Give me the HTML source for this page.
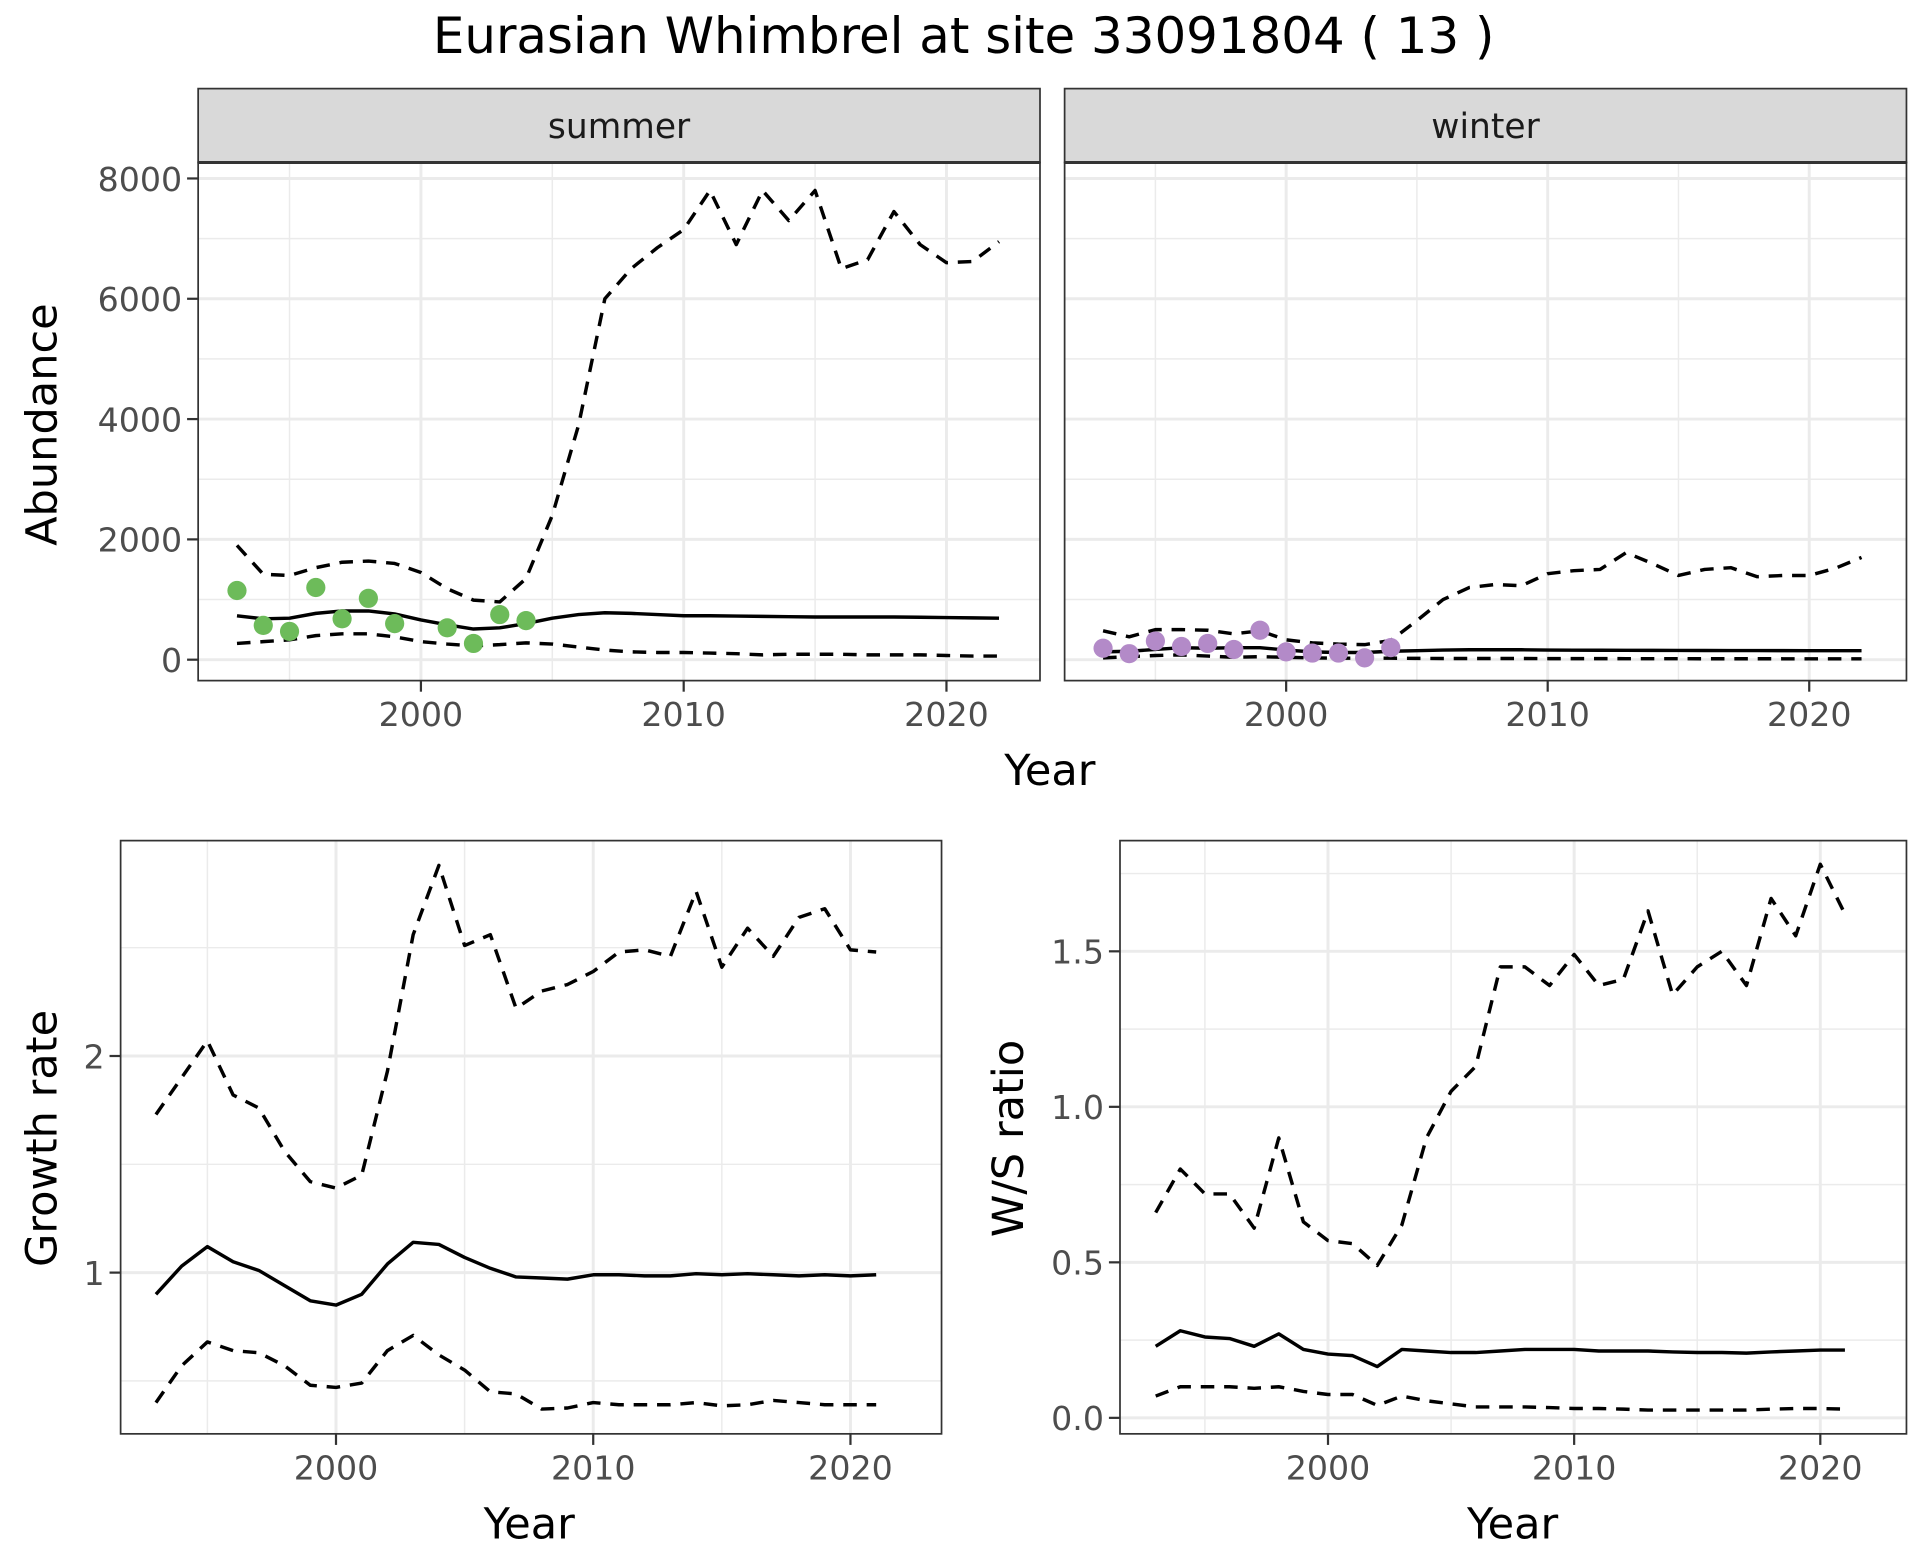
<!DOCTYPE html>
<html><head><meta charset="utf-8"><style>
html,body{margin:0;padding:0;background:#fff}
svg{display:block;font-family:"DejaVu Sans","Liberation Sans",sans-serif}
</style></head><body>
<svg id="chart" width="1920" height="1560" viewBox="0 0 1560 1267.5" xmlns="http://www.w3.org/2000/svg">
<rect width="1560" height="1267.5" fill="#fff"/>
<text x="783" y="43" font-size="40.5" text-anchor="middle" fill="#000">Eurasian Whimbrel at site 33091804 ( 13 )</text>
</svg>
<script>
const yearsAll = [1993,1994,1995,1996,1997,1998,1999,2000,2001,2002,2003,2004,2005,2006,2007,2008,2009,2010,2011,2012,2013,2014,2015,2016,2017,2018,2019,2020,2021,2022];
const yearsGR = [1993,1994,1995,1996,1997,1998,1999,2000,2001,2002,2003,2004,2005,2006,2007,2008,2009,2010,2011,2012,2013,2014,2015,2016,2017,2018,2019,2020,2021];
const summerObsYears = [1993,1994,1995,1996,1997,1998,1999,2001,2002,2003,2004];
const summerObs = [1150,570,470,1200,680,1020,600,530,270,750,650];
const summerMid = [730,680,690,770,810,810,760,660,580,510,530,600,690,750,780,770,750,730,730,725,720,715,710,710,710,710,705,700,695,690];
const summerUp = [1900,1420,1400,1530,1620,1640,1600,1450,1180,990,960,1350,2400,3900,6000,6500,6850,7150,7800,6900,7800,7300,7800,6500,6650,7450,6900,6600,6620,6950];
const summerLo = [270,300,330,400,430,430,380,300,260,230,250,280,260,210,160,130,120,120,110,100,80,90,90,90,80,80,80,70,60,60];
const winterObsYears = [1993,1994,1995,1996,1997,1998,1999,2000,2001,2002,2003,2004];
const winterObs = [190,100,310,220,270,170,490,130,110,110,30,200];
const winterMid = [130,140,170,200,190,200,200,160,130,120,120,140,150,160,165,165,165,160,158,157,156,155,154,153,152,152,151,150,150,150];
const winterUp = [480,380,500,500,490,430,480,330,280,260,250,320,650,1000,1200,1250,1230,1430,1480,1500,1780,1600,1400,1500,1530,1380,1400,1400,1520,1700];
const winterLo = [30,50,70,80,60,40,50,40,30,25,25,25,22,20,20,20,20,18,18,18,17,17,17,16,16,16,15,15,15,15];
const grMid = [0.9,1.03,1.12,1.05,1.01,0.94,0.87,0.85,0.9,1.04,1.14,1.13,1.07,1.02,0.98,0.975,0.97,0.99,0.99,0.985,0.985,0.995,0.99,0.995,0.99,0.985,0.99,0.985,0.99];
const grUp = [1.73,1.9,2.07,1.82,1.76,1.56,1.42,1.39,1.45,1.93,2.56,2.88,2.51,2.56,2.22,2.3,2.33,2.39,2.48,2.49,2.46,2.76,2.41,2.59,2.46,2.64,2.68,2.49,2.48];
const grLo = [0.4,0.57,0.68,0.64,0.63,0.57,0.48,0.47,0.49,0.64,0.71,0.62,0.55,0.45,0.44,0.37,0.375,0.4,0.39,0.39,0.39,0.4,0.385,0.39,0.41,0.4,0.39,0.39,0.39];
const wsMid = [0.23,0.28,0.26,0.255,0.23,0.27,0.22,0.205,0.2,0.165,0.22,0.215,0.21,0.21,0.215,0.22,0.22,0.22,0.215,0.215,0.215,0.212,0.21,0.21,0.208,0.212,0.215,0.218,0.218];
const wsUp = [0.66,0.8,0.72,0.72,0.61,0.9,0.63,0.57,0.56,0.49,0.62,0.9,1.05,1.13,1.45,1.45,1.39,1.49,1.39,1.41,1.63,1.36,1.45,1.5,1.39,1.67,1.55,1.78,1.62];
const wsLo = [0.07,0.1,0.1,0.1,0.095,0.1,0.085,0.075,0.075,0.04,0.07,0.055,0.045,0.035,0.035,0.035,0.033,0.03,0.03,0.028,0.025,0.025,0.025,0.025,0.025,0.028,0.03,0.03,0.028];
const xTicks = [2000,2010,2020];
const xMinor = [1995,2005,2015];
const abTicks = [0,2000,4000,6000,8000];
const abMinor = [1000,3000,5000,7000];
const grTicks = [1,2];
const grMinor = [0.5,1.5,2.5];
const wsTicks = [0,0.5,1.0,1.5];
const wsMinor = [0.25,0.75,1.25,1.75];

const svg = document.getElementById('chart');
const NS = 'http://www.w3.org/2000/svg';
function mk(tag, attrs, parent){const e=document.createElementNS(NS,tag);for(const k in attrs)e.setAttribute(k,attrs[k]);(parent||svg).appendChild(e);return e;}

function panel(o){
  const g = mk('g',{});
  
  
  const X = v => o.x0 + (v - o.xv0) * o.xs;
  const Y = v => o.y0 - (v - o.yv0) * o.ys;
  mk('rect',{x:o.L,y:o.T,width:o.R-o.L,height:o.B-o.T,fill:'#fff'},g);
  o.yMinor.forEach(v=>{if(Y(v)>o.T&&Y(v)<o.B)mk('line',{x1:o.L,x2:o.R,y1:Y(v),y2:Y(v),stroke:'#ebebeb','stroke-width':1.2},g);});
  xMinor.forEach(v=>{mk('line',{x1:X(v),x2:X(v),y1:o.T,y2:o.B,stroke:'#ebebeb','stroke-width':1.2},g);});
  o.yTicks.forEach(v=>{mk('line',{x1:o.L,x2:o.R,y1:Y(v),y2:Y(v),stroke:'#ebebeb','stroke-width':2.4},g);});
  xTicks.forEach(v=>{mk('line',{x1:X(v),x2:X(v),y1:o.T,y2:o.B,stroke:'#ebebeb','stroke-width':2.4},g);});
  const line=(ys,xs,dash,nm)=>{
    const p=mk('polyline',{points:xs.map((x,i)=>X(x)+','+Y(ys[i])).join(' '),fill:'none',stroke:'#000','stroke-width':2.8,'stroke-dasharray':dash?'11 8':'none','stroke-linejoin':'round'},g);
    
    
  };
  line(o.up,o.xs_,true,'upper-bound-line');
  line(o.lo,o.xs_,true,'lower-bound-line');
  line(o.mid,o.xs_,false,'estimate-line');
  if(o.pts){o.pts.forEach((v,i)=>{
    const c=mk('circle',{cx:X(o.ptYears[i]),cy:Y(v),r:7.8,fill:o.col},g);
    
    
  });}
  mk('rect',{x:o.L,y:o.T,width:o.R-o.L,height:o.B-o.T,fill:'none',stroke:'#333','stroke-width':1.4},g);
  if(o.yLabels){o.yTicks.forEach((v,i)=>{
    mk('line',{x1:o.L-9,x2:o.L,y1:Y(v),y2:Y(v),stroke:'#333','stroke-width':1.8},g);
    const t=mk('text',{x:o.L-13,y:Y(v)+10,'font-size':27,'text-anchor':'end',fill:'#4d4d4d'},g);
    t.textContent=o.yLabels[i];
    
    
  });}
  xTicks.forEach(v=>{
    mk('line',{x1:X(v),x2:X(v),y1:o.B,y2:o.B+9,stroke:'#333','stroke-width':1.8},g);
    const t=mk('text',{x:X(v),y:o.B+37,'font-size':27,'text-anchor':'middle',fill:'#4d4d4d'},g);
    t.textContent=String(v);
    
    
  });
  if(o.strip){
    mk('rect',{x:o.L,y:72,width:o.R-o.L,height:60,fill:'#d9d9d9',stroke:'#333','stroke-width':1.4},g);
    mk('line',{x1:o.L,x2:o.R,y1:132,y2:132,stroke:'#333','stroke-width':2.4},g);
    const t=mk('text',{x:(o.L+o.R)/2,y:112,'font-size':28,'text-anchor':'middle',fill:'#1a1a1a'},g);
    t.textContent=o.strip;
    
    
  }
}
function txt(s,x,y,size,name,rot){
  const t=mk('text',{x:x,y:y,'font-size':size,'text-anchor':'middle',fill:'#000'});
  if(rot) t.setAttribute('transform','rotate(-90 '+x+' '+y+')');
  t.textContent=s;
  
  
}
const abLabels = abTicks.map(String);
panel({name:'summer-panel',L:161,R:845,T:132,B:553,x0:342,xv0:2000,xs:21.35,y0:536,yv0:0,ys:0.048875,yTicks:abTicks,yMinor:abMinor,yLabels:abLabels,xs_:yearsAll,mid:summerMid,up:summerUp,lo:summerLo,pts:summerObs,ptYears:summerObsYears,col:'#6dbb5a',strip:'summer'});
panel({name:'winter-panel',L:865,R:1549,T:132,B:553,x0:1045,xv0:2000,xs:21.25,y0:536,yv0:0,ys:0.048875,yTicks:abTicks,yMinor:abMinor,yLabels:null,xs_:yearsAll,mid:winterMid,up:winterUp,lo:winterLo,pts:winterObs,ptYears:winterObsYears,col:'#b38ac8',strip:'winter'});
panel({name:'growth-rate-panel',L:98,R:765,T:683,B:1165,x0:273,xv0:2000,xs:20.9,y0:1034,yv0:1,ys:176,yTicks:grTicks,yMinor:grMinor,yLabels:['1','2'],xs_:yearsGR,mid:grMid,up:grUp,lo:grLo});
panel({name:'ws-ratio-panel',L:910,R:1549,T:683,B:1165,x0:1079,xv0:2000,xs:20,y0:1152,yv0:0,ys:252.7,yTicks:wsTicks,yMinor:wsMinor,yLabels:['0.0','0.5','1.0','1.5'],xs_:yearsGR,mid:wsMid,up:wsUp,lo:wsLo});
txt('Year',853,638,35,'x-axis-title-top');
txt('Abundance',46,345,35,'y-axis-title-abundance',true);
txt('Year',430,1250,35,'x-axis-title-growth');
txt('Growth rate',46,925,35,'y-axis-title-growth',true);
txt('Year',1229,1250,35,'x-axis-title-ratio');
txt('W/S ratio',831,925,35,'y-axis-title-ratio',true);
</script>
</body></html>
